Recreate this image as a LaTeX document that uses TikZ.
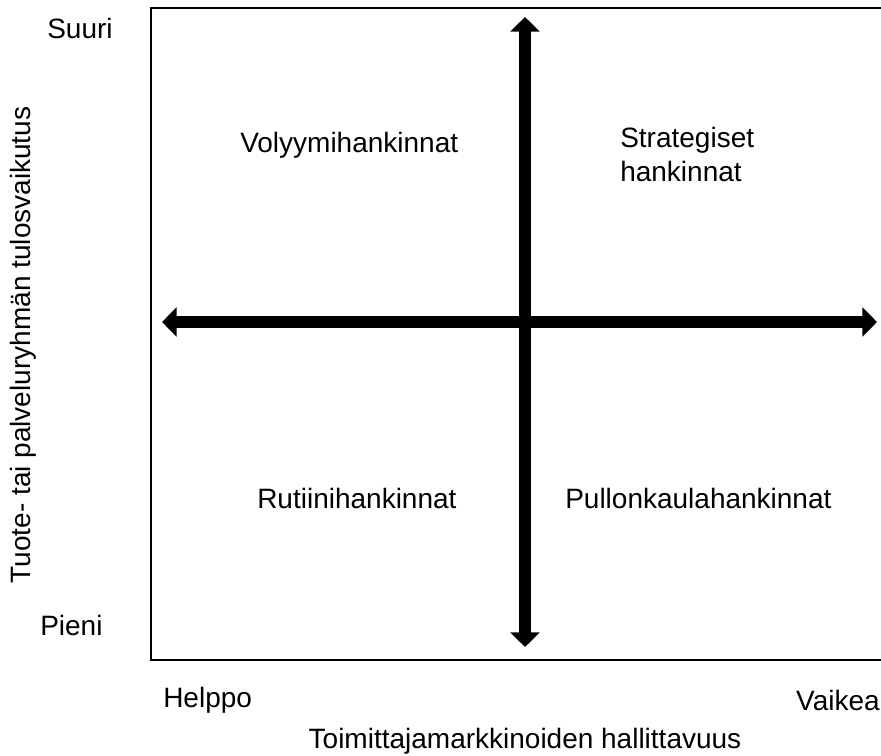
\documentclass[tikz,border=0pt]{standalone}
\usepackage{fontspec}
\setmainfont{Liberation Sans}
\usepackage{xcolor}
\usepackage{tikz}
\usetikzlibrary{arrows.meta,positioning,calc}

\begin{document}
\begin{tikzpicture}[
    x=0.75pt, y=-0.75pt,
    quadlabel/.style={inner sep=0pt, anchor=base west, font=\fontsize{21}{25}\selectfont},
    axislabel/.style={inner sep=0pt, font=\fontsize{21}{25}\selectfont},
    bigarrow/.style={line width=9.5pt, {Triangle[width=21.5pt,length=11pt]}-{Triangle[width=21.5pt,length=11pt]}},
]
\useasboundingbox (0,0) rectangle (881,756);
\clip (0,0) rectangle (881,756);

% Frame (right side runs off the page)
\draw[line width=1.5pt] (151,8) rectangle (900,660);

% Axis ends
\coordinate (vtop) at (525,17);
\coordinate (vbot) at (525,647);
\coordinate (hleft) at (162,322);
\coordinate (hright) at (877,322);

% Cross of arrows
\draw[bigarrow] (vbot) -- (vtop);
\draw[bigarrow] (hleft) -- (hright);

% Quadrant labels
\node[quadlabel] (volyymi) at (240,153) {Volyymihankinnat};
\node[quadlabel, align=left] (strateg) at (620,181) {Strategiset\\hankinnat};
\node[quadlabel] (rutiini) at (257,508) {Rutiinihankinnat};
\node[quadlabel] (pullon) at (565,508) {Pullonkaulahankinnat};

% Scale ends
\node[axislabel, anchor=base west] (suuri) at (47,39) {Suuri};
\node[axislabel, anchor=base west] (pieni) at (40,635) {Pieni};
\node[axislabel, anchor=base west] (helppo) at (163,707) {Helppo};
\node[axislabel, anchor=base east] (vaikea) at (880,710) {Vaikea};

% Axis titles
\node[axislabel, anchor=base] (xtitle) at (525,748) {Toimittajamarkkinoiden hallittavuus};
\node[axislabel, anchor=base, rotate=90] (ytitle) at (31,345) {Tuote- tai palveluryhmän tulosvaikutus};

\end{tikzpicture}
\end{document}
